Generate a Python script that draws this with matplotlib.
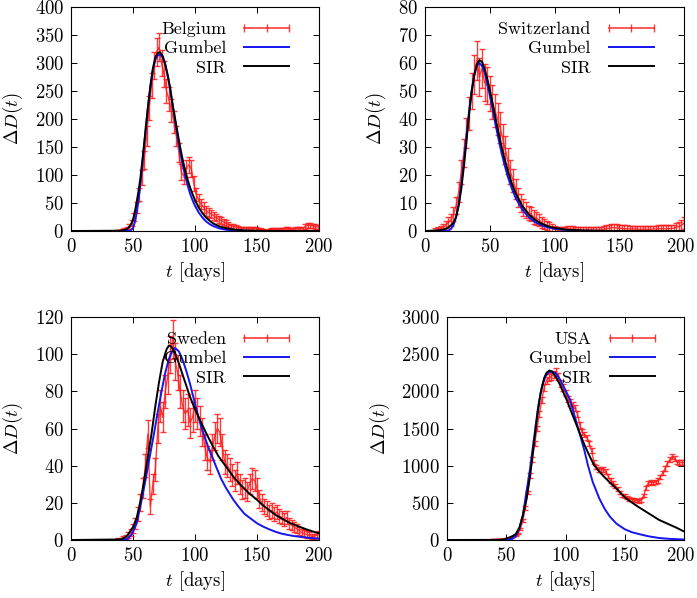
import numpy as np
import matplotlib
matplotlib.use("Agg")
import matplotlib.pyplot as plt
import matplotlib.transforms as mtransforms
from matplotlib.lines import Line2D

plt.rcParams['font.family'] = 'serif'
plt.rcParams['font.serif'] = ['cmr10', 'DejaVu Serif']
plt.rcParams['mathtext.fontset'] = 'cm'
plt.rcParams['axes.formatter.use_mathtext'] = True

# ---- Belgium: daily deaths every 2nd day from day 37
be_start = 37
be_vals = [1, 1, 2, 3, 5, 8, 14, 25, 42, 65,
           95, 127, 170, 220, 260, 295, 320, 328, 300, 280,
           250, 235, 215, 195, 170, 140, 105, 98, 112, 118,
           112, 85, 65, 55, 48, 42, 36, 33, 30, 27,
           24, 21, 19, 16, 14, 11, 9, 8, 7, 6,
           5, 5, 5, 5, 4, 4, 4, 3, 3, 2,
           1, 2, 3, 3, 3, 3, 3, 3, 4, 4,
           3, 3, 4, 4, 4, 5, 8, 10, 10, 9,
           8, 7]
be_err = [1.4, 1.4, 2, 2.4, 3, 4, 5, 7, 9, 11,
          13.5, 16, 18, 21, 22.5, 24, 25, 25, 24, 23,
          22, 21.5, 20.5, 19.5, 18, 16.5, 14.5, 14, 15, 15,
          15, 13, 11, 10.5, 9.5, 9, 8.5, 8, 7.5, 7.5,
          7, 6.5, 6, 5.5, 5, 4.5, 4, 4, 3.7, 3.4,
          3, 3, 3, 3, 2.8, 2.8, 2.8, 2.4, 2.4, 2,
          1.4, 2, 2.4, 2.4, 2.4, 2.4, 2.4, 2.4, 2.8, 2.8,
          2.4, 2.4, 2.8, 2.8, 2.8, 3, 4, 4.5, 4.5, 4.2,
          4, 3.7]
be_gum_t = [0, 46, 48, 50, 52, 54, 56, 58, 60, 62, 64, 66, 68, 70, 72, 74, 76, 78, 80, 82,
            84, 86, 88, 90, 92, 94, 96, 98, 100, 103, 106, 109, 112, 115, 120, 125, 130, 140, 150, 200]
be_gum = [0, 0, 1, 5, 20, 48, 85, 130, 175, 220, 258, 288, 306, 314, 315, 310, 297, 277, 252, 224,
          196, 168, 142, 119, 99, 82, 67, 55, 45, 33, 24, 17, 12, 8.5, 4.5, 2.3, 1.2, 0.3, 0, 0]
be_sir_t = [0, 40, 45, 48, 50, 52, 54, 56, 58, 60, 62, 64, 66, 68, 70, 72, 74, 76, 78, 80, 82,
            84, 86, 88, 90, 92, 94, 96, 98, 100, 103, 106, 109, 112, 115, 120, 125, 130, 140, 150, 160, 200]
be_sir = [0, 0.5, 3, 10, 20, 40, 65, 95, 135, 178, 220, 258, 290, 310, 318, 319, 312, 298, 278, 255, 225,
          200, 175, 150, 128, 108, 92, 78, 66, 55, 42, 32, 24, 18, 13, 8, 5, 3, 1, 0.4, 0.1, 0]

# ---- Switzerland: every 2nd day from day 8
ch_start = 8
ch_vals = [0.3, 0.5, 0.8, 1.2, 2, 3, 4, 6, 9, 14,
           21, 28, 35, 42, 50, 56, 61, 55, 58, 53,
           52, 49, 46, 43, 40, 37, 33, 29, 25, 21,
           18, 15, 12, 10, 8.5, 7.5, 6.5, 6, 5, 4.5,
           4, 3, 2.5, 2, 1.5, 1, 0.6, 0.4, 0.3, 0.3,
           0.5, 0.7, 0.8, 0.7, 0.6, 0.5, 0.4, 0.3, 0.3, 0.3,
           0.3, 0.3, 0.3, 0.4, 0.4, 0.6, 0.8, 1, 1.2, 1.2,
           1.1, 1, 0.9, 0.8, 0.8, 0.7, 0.7, 0.7, 0.6, 0.6,
           0.6, 0.6, 0.6, 0.6, 0.7, 0.7, 0.8, 0.8, 0.8, 0.8,
           0.8, 0.9, 1, 1.3, 1.6, 2, 2.8]
ch_err = [0.7, 0.8, 1, 1.2, 1.5, 2, 2.2, 2.6, 3, 3.6,
          4.3, 5, 5.5, 6, 6.5, 7, 7, 6.7, 7, 6.6,
          6.5, 6.3, 6, 6, 5.7, 5.5, 5.2, 5, 4.7, 4.3,
          4, 3.7, 3.4, 3.2, 3, 2.8, 2.6, 2.6, 2.4, 2.3,
          2.2, 2, 1.8, 1.7, 1.6, 1.4, 1.2, 1, 1, 1,
          1, 1.1, 1.1, 1.1, 1, 1, 1, 1, 1, 1,
          1, 1, 1, 1, 1, 1.1, 1.2, 1.3, 1.4, 1.4,
          1.3, 1.3, 1.2, 1.2, 1.2, 1.1, 1.1, 1.1, 1.1, 1.1,
          1.1, 1.1, 1.1, 1.1, 1.1, 1.1, 1.2, 1.2, 1.2, 1.2,
          1.2, 1.3, 1.3, 1.4, 1.6, 1.8, 2.1]
ch_gum_t = [0, 18, 20, 22, 24, 26, 28, 30, 32, 34, 36, 38, 40, 42, 44, 46, 48, 50, 52, 55,
            58, 61, 64, 67, 70, 75, 80, 85, 90, 95, 100, 110, 120, 140, 200]
ch_gum = [0, 0.1, 0.7, 2.1, 4.9, 9.6, 16.4, 24.7, 33.8, 42.6, 50.1, 55.7, 58.9, 60, 59, 56.6, 52.9, 48.6, 43.9, 36.8,
          30.2, 24.3, 19.3, 15.2, 11.8, 7.7, 5, 3.2, 2, 1.3, 0.8, 0.3, 0.1, 0, 0]
ch_sir_t = [0, 10, 14, 17, 20, 22, 24, 26, 28, 30, 32, 34, 36, 38, 40, 42, 44, 46, 48, 50,
            52, 55, 58, 61, 64, 67, 70, 75, 80, 85, 90, 95, 100, 110, 120, 140, 200]
ch_sir = [0, 0.2, 0.5, 1, 2, 3, 5, 9, 15, 23, 32, 41.5, 49.5, 55.5, 59.5, 61, 60.5, 58, 54.5, 50.5,
          46, 39, 32.5, 26.5, 21.5, 17, 13.5, 9, 6, 4, 2.6, 1.7, 1.1, 0.45, 0.2, 0.03, 0]

# ---- Sweden: every 2nd day from day 38
se_start = 38
se_vals = [0.5, 0.5, 1, 1.5, 2.5, 4, 6, 9, 14, 20,
           28, 40, 57, 18, 30, 38, 60, 72, 66, 80,
           88, 100, 108, 96, 90, 80, 72, 68, 70, 63,
           66, 72, 68, 64, 58, 50, 44, 42, 50, 56,
           60, 58, 50, 42, 40, 38, 35, 32, 36, 30,
           27, 28, 26, 30, 33, 32, 28, 22, 20, 18,
           17, 15, 16, 14, 15, 13, 12, 11, 12, 9,
           8, 7, 6, 5, 4, 3.5, 3, 2.5, 2, 2,
           2.5, 3]
se_err = [0.7, 0.7, 1, 1.2, 1.6, 2, 2.4, 3, 3.7, 4.5,
          5.3, 6.3, 7.5, 4.2, 5.5, 6.2, 7.7, 8.5, 8.1, 8.9,
          9.4, 10, 10.4, 9.8, 9.5, 8.9, 8.5, 8.2, 8.4, 7.9,
          8.1, 8.5, 8.2, 8, 7.6, 7.1, 6.6, 6.5, 7.1, 7.5,
          7.7, 7.6, 7.1, 6.5, 6.3, 6.2, 5.9, 5.7, 6, 5.5,
          5.2, 5.3, 5.1, 5.5, 5.7, 5.7, 5.3, 4.7, 4.5, 4.2,
          4.1, 3.9, 4, 3.7, 3.9, 3.6, 3.5, 3.3, 3.5, 3,
          2.8, 2.6, 2.4, 2.2, 2, 1.9, 1.7, 1.6, 1.4, 1.4,
          1.6, 1.7]
se_gum_t = [0, 40, 45, 49, 53, 57, 60, 63, 67, 70, 73, 76, 79, 82, 84, 87, 90, 93, 96, 99,
            102, 105, 108, 111, 114, 117, 121, 125, 131, 135, 140, 145, 150, 155, 160, 165, 170,
            175, 180, 185, 190, 195, 200]
se_gum = [0, 0, 0.3, 3, 9, 21.6, 32, 43, 57.5, 69, 80, 90, 97.5, 102, 103.3, 101.5, 97, 91, 84, 76,
          68, 61, 55, 49.5, 44.5, 39.5, 33, 28, 21.6, 18, 14, 11.5, 9, 7.2, 5.7, 4.4, 3.4,
          2.7, 2.1, 1.7, 1.3, 1, 0.7]
se_sir_t = [0, 40, 44, 46, 50, 53, 56, 59, 62, 65, 68, 71, 74, 77, 79, 81, 84, 87, 90, 93,
            96, 99, 104, 109, 114, 119, 125, 131, 137, 143, 150, 155, 160, 165, 170, 177, 184, 190, 195, 200]
se_sir = [0, 0.3, 1.5, 3, 7, 12, 21, 32, 45, 57.5, 72, 85, 96, 102.5, 104.7, 104, 100.5, 95, 89, 83,
          77, 72, 64.5, 57.5, 51, 45, 39.5, 34, 29.5, 25.5, 21.6, 18.5, 16, 13.5, 11.5, 9, 7.2, 5.7, 4.6, 3.6]

# ---- USA: every 2nd day from day 38
us_start = 38
us_vals = [5, 5, 8, 10, 12, 15, 20, 25, 30, 50,
           60, 90, 150, 260, 430, 640, 870, 1080, 1300, 1500,
           1700, 1880, 2050, 2150, 2180, 2200, 2230, 2260, 2200, 2100,
           2050, 1980, 1900, 1850, 1820, 1780, 1700, 1550, 1450, 1420,
           1380, 1300, 1200, 1050, 980, 950, 940, 950, 920, 860,
           800, 760, 720, 690, 640, 600, 590, 570, 550, 545,
           540, 530, 525, 540, 600, 700, 770, 780, 770, 780,
           800, 850, 900, 960, 1030, 1080, 1120, 1100, 1050, 1040,
           1040, 1040]
us_err = [2.2, 2.2, 2.8, 3.2, 3.5, 3.9, 4.5, 5, 5.5, 7,
          8, 9.5, 12, 16, 21, 25, 29.5, 32.9, 36, 38.7,
          41.2, 43.4, 45.3, 46.4, 46.7, 46.9, 47.2, 47.5, 46.9, 45.8,
          45.3, 44.5, 43.6, 43, 42.7, 42.2, 41.2, 39.4, 38.1, 37.7,
          37.1, 36, 34.6, 32.4, 31.3, 30.8, 30.7, 30.8, 30.3, 29.3,
          28.3, 27.6, 26.8, 26.3, 25.3, 24.5, 24.3, 23.9, 23.5, 23.3,
          23.2, 23, 22.9, 23.2, 24.5, 26.5, 27.7, 27.9, 27.7, 27.9,
          28.3, 29.2, 30, 31, 32.1, 32.9, 33.5, 33.2, 32.4, 32.2,
          32.2, 32.2]
us_gum_t = [0, 45, 50, 55, 58, 61, 64, 66, 70, 74, 77, 80, 83, 86, 89, 92, 95, 98, 101, 104,
            108, 112, 116, 119, 123, 128.5, 133, 137.5, 143, 150, 156, 162, 170, 179, 188, 200]
us_gum = [0, 0, 2, 15, 50, 150, 330, 539, 950, 1437, 1800, 2050, 2200, 2260, 2267, 2240, 2170, 2080, 1980, 1886,
          1650, 1430, 1200, 1000, 780, 560, 420, 314, 220, 145, 105, 80, 50, 27, 15, 7]
us_sir_t = [0, 44, 48, 52, 55, 58, 61, 64, 67, 70, 73, 76, 79, 82, 84, 86.5, 89, 92, 95, 98,
            101, 104, 108, 112, 116, 120, 124, 128, 132, 137, 143, 151, 161, 170, 179, 186, 193, 200]
us_sir = [0, 2, 8, 30, 50, 80, 160, 330, 539, 850, 1250, 1650, 1980, 2180, 2250, 2281, 2260, 2190, 2100, 1990,
          1886, 1760, 1600, 1437, 1280, 1140, 1010, 930, 860, 780, 690, 560, 450, 360, 270, 220, 170, 115]

panels = [
    ('Belgium', be_start, be_vals, be_err, be_gum_t, be_gum, be_sir_t, be_sir, 400, 50,
     [71, 7, 319, 231]),
    ('Switzerland', ch_start, ch_vals, ch_err, ch_gum_t, ch_gum, ch_sir_t, ch_sir, 80, 10,
     [425, 7, 684, 231]),
    ('Sweden', se_start, se_vals, se_err, se_gum_t, se_gum, se_sir_t, se_sir, 120, 20,
     [71, 317, 319, 540]),
    ('USA', us_start, us_vals, us_err, us_gum_t, us_gum, us_sir_t, us_sir, 3000, 500,
     [447, 317, 684, 540]),
]

RED = '#ff1a1a'
W, H = 697, 598
fig = plt.figure(figsize=(W / 100, H / 100), dpi=100)

for name, start, vals, err, gt, gv, st, sv, ymax, ystep, box in panels:
    x0, y0, x1, y1 = box
    ax = fig.add_axes([x0 / W, 1 - y1 / H, (x1 - x0) / W, (y1 - y0) / H])
    t = np.arange(start, start + 2 * len(vals), 2)
    ax.errorbar(t, vals, yerr=err, fmt='-', color=RED, lw=1.0,
                elinewidth=1.0, capsize=2.2, capthick=1.0, alpha=0.85, zorder=2)
    h_gum, = ax.plot(gt, gv, color='#1515f0', lw=1.4, zorder=3)
    h_sir, = ax.plot(st, sv, color='black', lw=1.4, zorder=4)

    # gnuplot-like key sample for the data: line with ticks at ends and middle
    h_data = Line2D([], [], color=RED, lw=1.2, marker='|', markersize=6,
                    markeredgewidth=1.0, alpha=0.85)

    ax.set_xlim(0, 200)
    ax.set_ylim(0, ymax)
    ax.set_xticks(np.arange(0, 201, 50))
    ax.set_yticks(np.arange(0, ymax + 1, ystep))
    ax.tick_params(direction='in', top=True, right=True, length=4, width=0.7,
                   labelsize=13.5, pad=5)
    for s in ax.spines.values():
        s.set_linewidth(0.8)
    ax.set_xlabel(r'$t$ [days]', fontsize=13.5, labelpad=3)
    ax.set_ylabel(r'$\Delta D(t)$', fontsize=13.5, labelpad=7)
    ax.legend([h_data, h_gum, h_sir], [name, 'Gumbel', 'SIR'], numpoints=3,
              loc='upper right', frameon=False, markerfirst=False, fontsize=13,
              handlelength=3.1, handletextpad=0.7, labelspacing=0.2,
              borderaxespad=0.4, bbox_to_anchor=(0.96, 1.0))

    # keep the right-most "200" inside the figure for the right column
    if x1 > 600:
        shift = mtransforms.ScaledTranslation(-3 / 100, 0, fig.dpi_scale_trans)
        lab = ax.get_xticklabels()[-1]
        lab.set_transform(lab.get_transform() + shift)

fig.savefig('out.png', dpi=100)
